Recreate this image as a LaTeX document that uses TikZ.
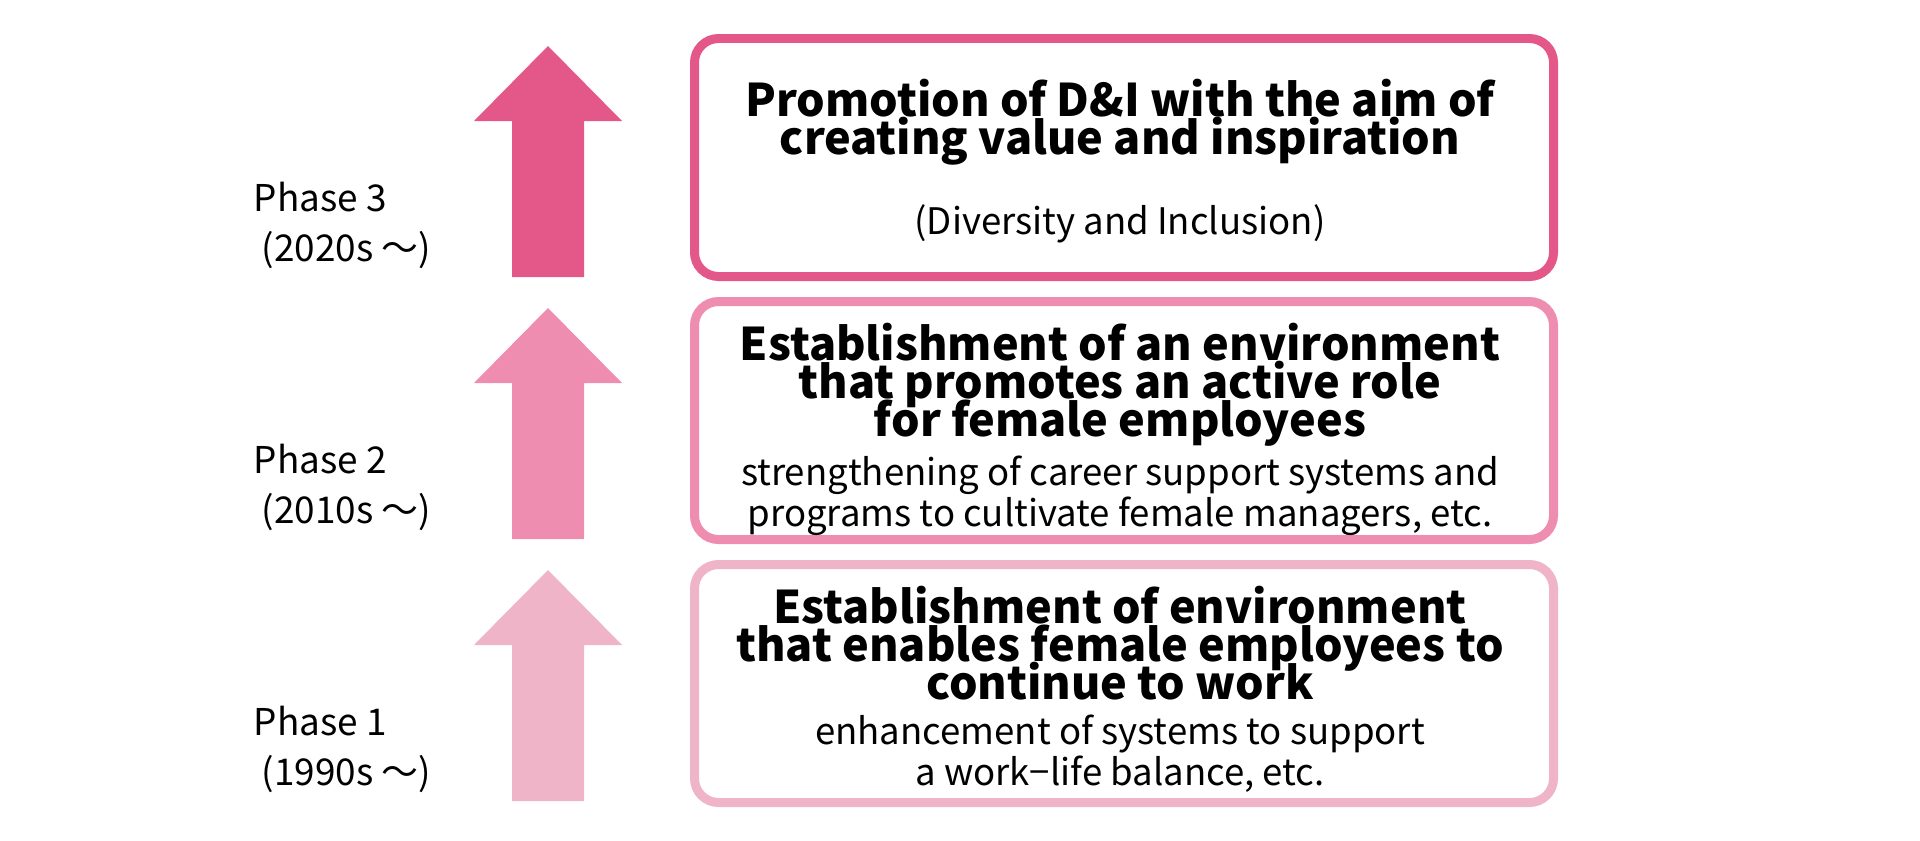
\documentclass[tikz,border=0pt]{standalone}
\usepackage{fontspec}
\setmainfont{Noto Sans CJK JP}
\usepackage{tikz}
\usepackage{xcolor}
\usetikzlibrary{calc}
\setlength{\lineskiplimit}{-20pt}

\definecolor{phaseone}{HTML}{F0B4C9}
\definecolor{phasetwo}{HTML}{EF8DB0}
\definecolor{phasethree}{HTML}{E45889}

\tikzset{
  stagebox/.style={line width=0.09cm, rounded corners=0.24cm, minimum width=8.59cm, minimum height=2.38cm},
  headline/.style={font=\fontsize{12.8}{10.8}\selectfont\bfseries, align=center, inner sep=0, anchor=north},
  detail/.style={font=\fontsize{10.4}{11.6}\selectfont, align=center, inner sep=0, anchor=north},
  phaselabel/.style={font=\fontsize{10.5}{14.4}\selectfont, align=left, inner sep=0, anchor=north west},
}

\begin{document}
\begin{tikzpicture}
\useasboundingbox (0,0) rectangle (19.2,-8.4);

% arrows
\fill[phasethree] (5.12,-2.77) -- (5.12,-1.21) -- (4.74,-1.21) -- (5.48,-0.46) -- (6.22,-1.21) -- (5.84,-1.21) -- (5.84,-2.77) -- cycle;
\fill[phasetwo] (5.12,-5.39) -- (5.12,-3.83) -- (4.74,-3.83) -- (5.48,-3.08) -- (6.22,-3.83) -- (5.84,-3.83) -- (5.84,-5.39) -- cycle;
\fill[phaseone] (5.12,-8.01) -- (5.12,-6.45) -- (4.74,-6.45) -- (5.48,-5.70) -- (6.22,-6.45) -- (5.84,-6.45) -- (5.84,-8.01) -- cycle;

\node[phaselabel] (label3) at (2.53,-1.81) {Phase 3\\~(2020s ～)};
\node[phaselabel] (label2) at (2.53,-4.43) {Phase 2\\~(2010s ～)};
\node[phaselabel] (label1) at (2.53,-7.05) {Phase 1\\~(1990s ～)};

% boxes
\node[stagebox, draw=phasethree] (stage3) at (11.24,-1.575) {};
\node[stagebox, draw=phasetwo] (stage2) at (11.24,-4.205) {};
\node[stagebox, draw=phaseone] (stage1) at (11.24,-6.835) {};

\node[headline] (head3) at (11.2,-0.78) {Promotion of D\&I with the aim of\\creating value and inspiration};
\node[detail] (note3) at (11.2,-2.04) {(Diversity and Inclusion)};

\node[headline] (head2) at (11.2,-3.22) {Establishment of an environment\\that promotes an active role\\for female employees};
\node[detail] (note2) at (11.2,-4.55) {strengthening of career support systems and\\programs to cultivate female managers, etc.};

\node[headline] (head1) at (11.2,-5.85) {Establishment of environment\\that enables female employees to\\continue to work};
\node[detail] (note1) at (11.2,-7.14) {enhancement of systems to support\\a work−life balance, etc.};

\end{tikzpicture}
\end{document}
